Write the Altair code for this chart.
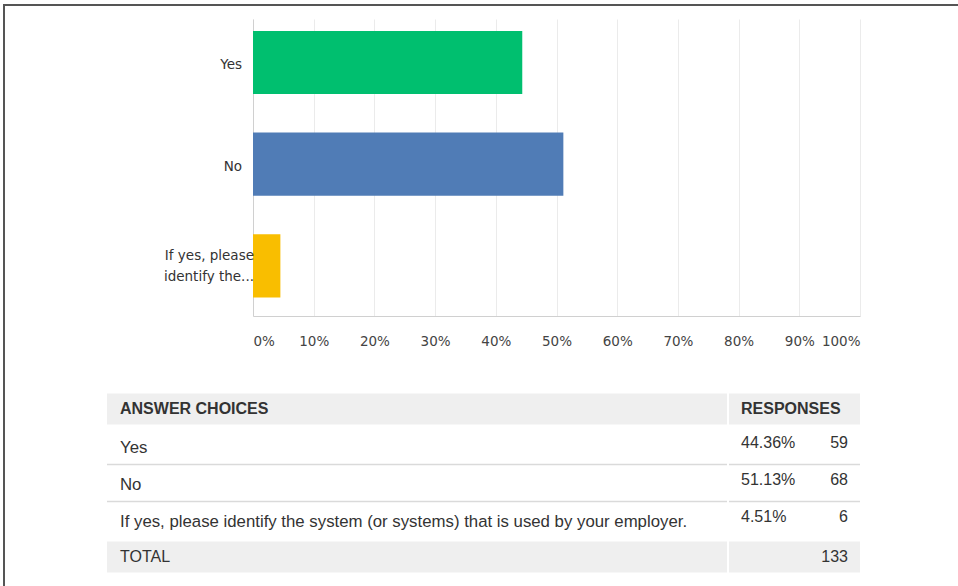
import altair as alt
import pandas as pd

# ---- data ----
answers = ["Yes", "No", "If yes, please identify the system (or systems) that is used by your employer."]
short_labels = ["Yes", "No", "If yes, please\nidentify the..."]
percents = [44.36, 51.13, 4.51]
counts = [59, 68, 6]
total = 133
bar_colors = ["#00bf6f", "#507cb6", "#f9be00"]
tick_values = [0, 10, 20, 30, 40, 50, 60, 70, 80, 90, 100]
pct_labels = ["44.36%", "51.13%", "4.51%"]

bars_df = pd.DataFrame({"answer": answers, "short": short_labels, "pct": percents})

row_keys = ["header"] + answers + ["total"]
table_df = pd.DataFrame({
    "row": answers,
    "pct_label": pct_labels,
    "count": [str(c) for c in counts],
})
header_df = pd.DataFrame({"row": ["header"], "left": ["ANSWER CHOICES"], "right": ["RESPONSES"]})
total_df = pd.DataFrame({"row": ["total"], "left": ["TOTAL"], "right": [str(total)]})
shade_df = pd.DataFrame({"row": ["header", "total"]})
sep_df = pd.DataFrame({"row": answers[:2]})

FONT = "DejaVu Sans"
FSIZE = 13.5
TFONT = "Liberation Sans"

# ---- bar chart ----
yscale = alt.Scale(domain=answers, paddingInner=0.38, paddingOuter=0.15, align=0.39)

bars = alt.Chart(bars_df).mark_bar().encode(
    x=alt.X("pct:Q", scale=alt.Scale(domain=[0, 100]),
            axis=alt.Axis(values=tick_values, labelExpr="datum.value + '%'", labelFlush=True,
                          title=None, ticks=False, labelPadding=18, grid=True,
                          gridColor="#ebebeb", domainColor="#d0d0d0",
                          labelFont=FONT, labelFontSize=FSIZE, labelColor="#444")),
    y=alt.Y("answer:N", scale=yscale,
            axis=alt.Axis(labels=False, ticks=False, title=None, domainColor="#d0d0d0", grid=False)),
    color=alt.Color("answer:N", scale=alt.Scale(domain=answers, range=bar_colors), legend=None),
)

lab_single = alt.Chart(bars_df).transform_filter(
    alt.FieldOneOfPredicate(field="answer", oneOf=answers[:2])
).mark_text(align="right", baseline="middle", font=FONT, fontSize=FSIZE, color="#333",
            dx=-11, dy=3).encode(
    x=alt.value(0), y=alt.Y("answer:N", scale=yscale), text="short:N"
)
lab_multi = alt.Chart(bars_df).transform_filter(
    alt.FieldEqualPredicate(field="answer", equal=answers[2])
).mark_text(align="right", baseline="middle", font=FONT, fontSize=FSIZE, color="#333",
            lineBreak="\n", lineHeight=21, dx=1, dy=-10).encode(
    x=alt.value(0), y=alt.Y("answer:N", scale=yscale), text="short:N"
)

bar_layer = alt.layer(bars, lab_single, lab_multi)

# ---- table ----
tscale = alt.Scale(domain=row_keys, range=[371.5, 556.5], paddingInner=0, paddingOuter=0)
ty = alt.Y("row:N", scale=tscale, axis=None)

LEFT = -146
SPLIT_A = 474
SPLIT_B = 476
RIGHT = 607

shade_a = alt.Chart(shade_df).mark_bar(size=31, color="#efefef").encode(
    y=ty, x=alt.value(LEFT), x2=alt.value(SPLIT_A))
shade_b = alt.Chart(shade_df).mark_bar(size=31, color="#efefef").encode(
    y=ty, x=alt.value(SPLIT_B), x2=alt.value(RIGHT))
sep_a = alt.Chart(sep_df).mark_rule(color="#dadada", strokeWidth=1.5).encode(
    y=alt.Y("row:N", scale=tscale, axis=None, bandPosition=1), x=alt.value(LEFT), x2=alt.value(SPLIT_A))
sep_b = alt.Chart(sep_df).mark_rule(color="#dadada", strokeWidth=1.5).encode(
    y=alt.Y("row:N", scale=tscale, axis=None, bandPosition=1), x=alt.value(SPLIT_B), x2=alt.value(RIGHT))

hdr_left = alt.Chart(header_df).mark_text(align="left", baseline="middle", font=TFONT, fontSize=16,
                                          fontWeight="bold", color="#333").encode(
    y=ty, x=alt.value(-133), text="left:N")
hdr_right = alt.Chart(header_df).mark_text(align="left", baseline="middle", font=TFONT, fontSize=16,
                                           fontWeight="bold", color="#333").encode(
    y=ty, x=alt.value(488), text="right:N")
ans_text = alt.Chart(table_df).mark_text(align="left", baseline="middle", font=TFONT, fontSize=16.8,
                                         color="#333", dy=2).encode(
    y=ty, x=alt.value(-133), text="row:N")
pct_text = alt.Chart(table_df).mark_text(align="left", baseline="middle", font=TFONT, fontSize=16,
                                         color="#333", dy=-3).encode(
    y=ty, x=alt.value(488), text="pct_label:N")
cnt_text = alt.Chart(table_df).mark_text(align="right", baseline="middle", font=TFONT, fontSize=16,
                                         color="#333", dy=-3).encode(
    y=ty, x=alt.value(595), text="count:N")
tot_left = alt.Chart(total_df).mark_text(align="left", baseline="middle", font=TFONT, fontSize=16,
                                         color="#333").encode(
    y=ty, x=alt.value(-133), text="left:N")
tot_right = alt.Chart(total_df).mark_text(align="right", baseline="middle", font=TFONT, fontSize=16,
                                          color="#333").encode(
    y=ty, x=alt.value(595), text="right:N")

table_layer = alt.layer(shade_a, shade_b, sep_a, sep_b, hdr_left, hdr_right,
                        ans_text, pct_text, cnt_text, tot_left, tot_right)

# ---- outer frame ----
frame = alt.Chart(pd.DataFrame({"k": [0]})).mark_rect(fill=None, stroke="#555555", strokeWidth=2).encode(
    x=alt.value(-249), x2=alt.value(720), y=alt.value(-14), y2=alt.value(600))

chart = alt.layer(frame, bar_layer, table_layer).resolve_scale(y="independent").properties(
    width=607, height=297,
    padding={"left": 253, "top": 19, "right": 98, "bottom": 270},
    autosize=alt.AutoSizeParams(type="none"),
    background="white",
).configure_view(stroke=None)

chart.save("out.html", embed_options={"renderer": "svg", "actions": False})
